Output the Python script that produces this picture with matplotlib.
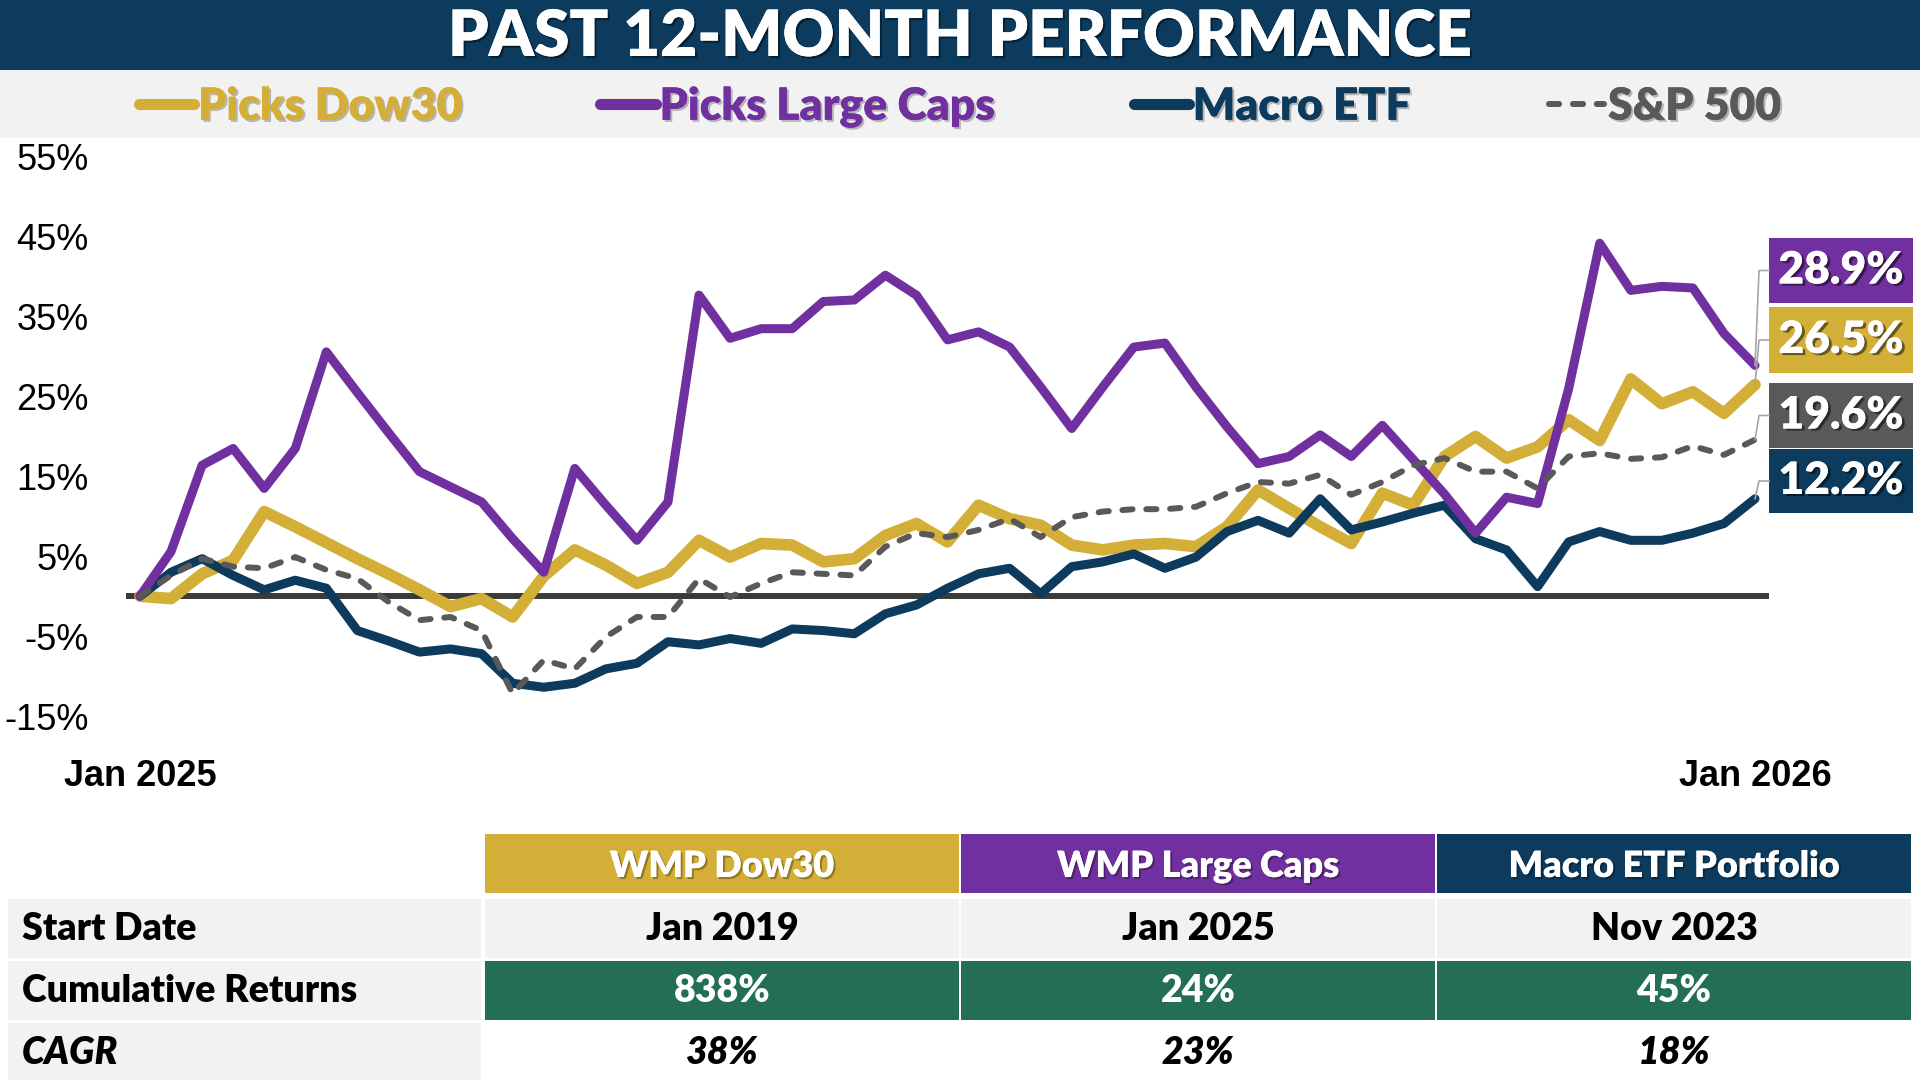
import matplotlib

matplotlib.use("Agg")

import matplotlib.pyplot as plt  # noqa: E402
import matplotlib.patheffects as pe  # noqa: E402
from matplotlib.lines import Line2D  # noqa: E402
from matplotlib.patches import Rectangle  # noqa: E402
import pandas as pd  # noqa: E402

# ---- data -------------------------------------------------------------
dates = pd.date_range("2025-01-03", periods=53, freq="7D")

dow30 = [0.0, -0.3, 2.8, 4.5, 10.6, 8.7, 6.7, 4.7, 2.8, 0.8, -1.3, -0.3, -2.6,
         2.5, 5.8, 3.9, 1.6, 3.0, 7.0, 4.9, 6.6, 6.4, 4.3, 4.7, 7.6, 9.1, 6.8,
         11.4, 9.7, 8.9, 6.4, 5.8, 6.4, 6.6, 6.2, 8.7, 13.3, 11.0, 8.7, 6.6,
         12.9, 11.4, 17.5, 20.0, 17.3, 18.7, 22.1, 19.5, 27.2, 24.1, 25.6, 22.9,
         26.5]
large_caps = [0.0, 5.6, 16.4, 18.5, 13.5, 18.5, 30.6, 25.5, 20.5, 15.6, 13.7,
              11.8, 7.2, 3.0, 16.0, 11.4, 7.0, 11.8, 37.7, 32.3, 33.5, 33.5,
              36.9, 37.1, 40.2, 37.7, 32.1, 33.1, 31.2, 26.2, 21.0, 26.2, 31.2,
              31.7, 26.2, 21.2, 16.6, 17.5, 20.2, 17.5, 21.4, 17.1, 12.8, 7.9,
              12.4, 11.6, 26.0, 44.2, 38.3, 38.8, 38.6, 32.9, 28.9]
macro_etf = [0.0, 3.0, 4.7, 2.6, 0.8, 2.0, 1.0, -4.3, -5.6, -7.0, -6.6, -7.2,
             -10.9, -11.4, -10.9, -9.1, -8.4, -5.7, -6.1, -5.3, -5.9, -4.1,
             -4.3, -4.7, -2.2, -1.1, 1.0, 2.8, 3.5, 0.3, 3.7, 4.3, 5.3, 3.5,
             4.9, 8.1, 9.5, 7.9, 12.2, 8.3, 9.3, 10.4, 11.4, 7.2, 5.8, 1.2, 6.8,
             8.1, 7.0, 7.0, 7.9, 9.1, 12.2]
sp500 = [0.0, 2.6, 4.7, 3.7, 3.5, 4.9, 3.3, 2.2, -0.7, -3.0, -2.6, -4.3, -12.2,
         -8.0, -9.1, -5.1, -2.6, -2.6, 2.2, -0.1, 1.6, 3.0, 2.8, 2.6, 6.2, 7.9,
         7.4, 8.3, 9.7, 7.4, 9.9, 10.6, 10.9, 10.9, 11.2, 12.9, 14.3, 14.1,
         15.2, 12.7, 14.3, 16.4, 17.3, 15.6, 15.6, 13.5, 17.5, 17.9, 17.2, 17.4,
         18.8, 17.7, 19.6]

series_names = ["Picks Dow30", "Picks Large Caps", "Macro ETF", "S&P 500"]
yticks = [-15, -5, 5, 15, 25, 35, 45, 55]
xtick_labels = ["Jan 2025", "Jan 2026"]

table_cols = ["WMP Dow30", "WMP Large Caps", "Macro ETF Portfolio"]
row_labels = ["Start Date", "Cumulative Returns", "CAGR"]
start_dates = ["Jan 2019", "Jan 2025", "Nov 2023"]
cum_returns = ["838%", "24%", "45%"]
cagr = ["38%", "23%", "18%"]

# ---- style ------------------------------------------------------------
GOLD = "#D4AF37"
PURPLE = "#7030A0"
NAVY = "#0C3B5E"
GRAY = "#595959"
GREEN = "#246F54"
BAND = "#F2F2F2"
SANS = ["Lato", "DejaVu Sans"]
ARIAL = ["Liberation Sans", "DejaVu Sans"]
HEAVY = "heavy"

W, H = 1920, 1080


def fx(x):
    return x / W


def fy(y):
    return 1 - y / H


def shadow(alpha=0.3, off=(1.5, -1.5)):
    return [pe.withSimplePatchShadow(offset=off, shadow_rgbFace="black",
                                     alpha=alpha), pe.Normal()]


def rect(fig, x0, y0, x1, y1, color):
    fig.add_artist(Rectangle((fx(x0), fy(y1)), fx(x1 - x0), (y1 - y0) / H,
                             transform=fig.transFigure, facecolor=color,
                             edgecolor="none", zorder=0))


fig = plt.figure(figsize=(19.2, 10.8), dpi=100)
fig.patch.set_facecolor("white")

# title and legend bands
rect(fig, 0, 0, W, 70, NAVY)
rect(fig, 0, 70, W, 138, BAND)
fig.text(0.5, fy(56), "PAST 12-MONTH PERFORMANCE", ha="center", va="baseline",
         color="white", fontsize=46, fontweight=HEAVY, family=SANS,
         path_effects=shadow(0.45))

# ---- chart ------------------------------------------------------------
ax = fig.add_axes([fx(126), fy(716), fx(1769 - 126), (716 - 157) / H])
ax.axhline(0, color="#3A3A38", lw=4.3, zorder=1.5)

styles = [
    dict(color=GOLD, lw=8.4, zorder=2),
    dict(color=PURPLE, lw=6.5, zorder=4),
    dict(color=NAVY, lw=6.5, zorder=3),
    dict(color=GRAY, lw=4.3, zorder=5, ls=(0, (1.7, 2.3)), dash_capstyle="round"),
]
lines = []
for vals, name, st in zip([dow30, large_caps, macro_etf, sp500], series_names, styles):
    (ln,) = ax.plot(dates, vals, label=name, solid_capstyle="round",
                    solid_joinstyle="round", **st)
    lines.append(ln)

pad = pd.Timedelta(days=3.15)
ax.set_xlim(dates[0] - pad, dates[-1] + pad)
ax.set_ylim(-15, 55)
ax.set_yticks(yticks)
ax.set_yticklabels([f"{v}%" for v in yticks], family=ARIAL, fontsize=26)
ax.set_xticks([dates[0], dates[-1]])
ax.set_xticklabels(xtick_labels, family=ARIAL, fontsize=26, fontweight="bold")
ax.tick_params(axis="y", length=0, pad=27)
ax.tick_params(axis="x", length=0, pad=31)
for s in ax.spines.values():
    s.set_visible(False)
ax.patch.set_alpha(0)

# legend across the light band
leg = fig.legend(handles=lines, labels=series_names, loc="center",
                 bbox_to_anchor=(0.5, fy(107)), ncol=4, frameon=False,
                 prop=dict(family=SANS, weight=HEAVY, size=32),
                 labelcolor="linecolor", handlelength=1.25, handletextpad=0.08,
                 columnspacing=3.1, borderaxespad=0)
for t in leg.get_texts():
    t.set_path_effects(shadow(0.25))
for h in leg.legend_handles[:3]:
    h.set_linewidth(8)

# end-value boxes with leader lines
fig.canvas.draw()
box_rows = [(238, 303), (307, 373), (383, 448), (449, 513)]
box_series = [(large_caps, PURPLE), (dow30, GOLD), (sp500, GRAY), (macro_etf, NAVY)]
for (y0, y1), (vals, col) in zip(box_rows, box_series):
    rect(fig, 1769, y0, 1913, y1, col)
    yc = (y0 + y1) / 2
    fig.text(fx(1841), fy(yc), f"{vals[-1]:.1f}%", ha="center", va="center",
             color="white", fontsize=32, fontweight=HEAVY, family=SANS,
             path_effects=shadow(0.5, (2, -1.5)))
    px, py = ax.transData.transform((matplotlib.dates.date2num(dates[-1]), vals[-1]))
    fig.add_artist(Line2D([px / W, (px + 4) / W, fx(1769)],
                          [py / H, fy(yc), fy(yc)], transform=fig.transFigure,
                          color="#A6A6A6", lw=1.2, zorder=6))

# ---- summary table ------------------------------------------------------
col_x = [(485, 959), (961, 1435), (1437, 1911)]
head_colors = [GOLD, PURPLE, NAVY]
row_y = [(899, 958), (961, 1020), (1023, 1080)]

for (x0, x1), name, c in zip(col_x, table_cols, head_colors):
    rect(fig, x0, 834, x1, 893, c)
    fig.text(fx((x0 + x1) / 2), fy(877), name, ha="center", va="baseline",
             color="white", fontsize=26, fontweight=HEAVY, family=SANS,
             path_effects=shadow(0.3))

row_values = [start_dates, cum_returns, cagr]
row_fill = [BAND, GREEN, "white"]
row_text = ["black", "white", "black"]
row_style = ["normal", "normal", "italic"]
for (y0, y1), label, vals, fill, tc, st in zip(row_y, row_labels, row_values,
                                              row_fill, row_text, row_style):
    rect(fig, 8, y0, 481, y1, BAND)
    base = (y0 + y1) / 2 + 12
    fig.text(fx(22), fy(base), label, ha="left", va="baseline", color="black",
             fontsize=27, fontweight=HEAVY, fontstyle=st, family=SANS)
    for (x0, x1), v in zip(col_x, vals):
        rect(fig, x0, y0, x1, y1, fill)
        fig.text(fx((x0 + x1) / 2), fy(base), v, ha="center", va="baseline",
                 color=tc, fontsize=27, fontweight=HEAVY, fontstyle=st,
                 family=SANS)

fig.savefig("out.png", dpi=100)
plt.close(fig)
